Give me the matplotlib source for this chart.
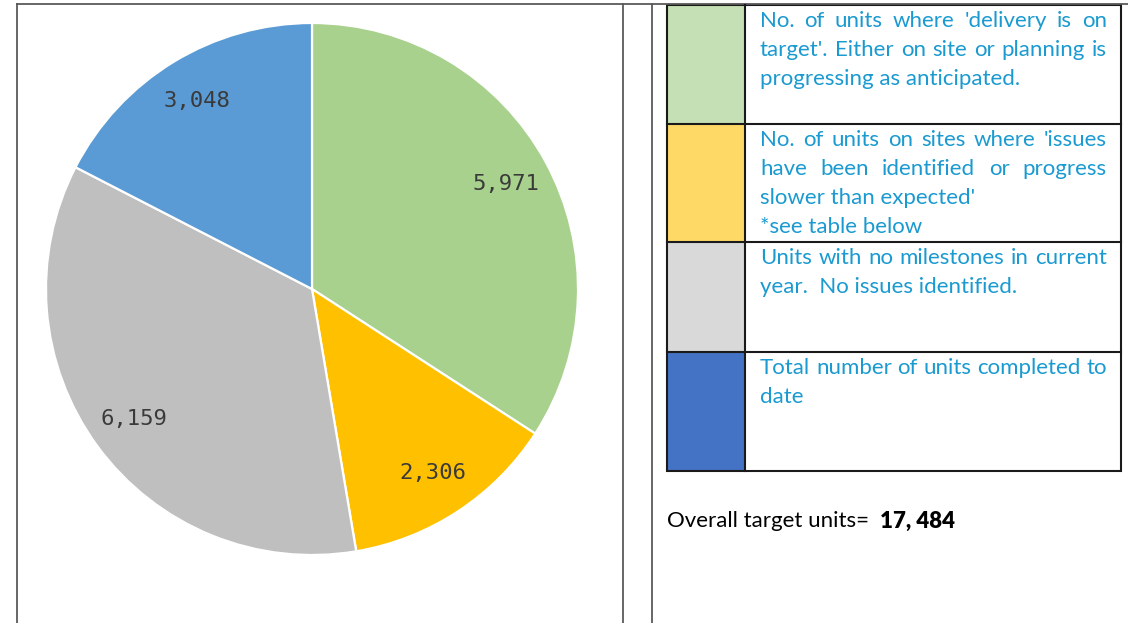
import matplotlib
matplotlib.use('Agg')
import matplotlib.pyplot as plt
from matplotlib.patches import Rectangle

# pie data (units)
values = [5971, 2306, 6159, 3048]
pie_colors = ['#A9D18E', '#FFC000', '#BFBFBF', '#5B9BD5']

# key table on the right
key_colors = ['#C5E0B4', '#FFD966', '#D9D9D9', '#4472C4']
key_lines = [
    ["No. of units where 'delivery is on", "target'. Either on site or planning is", "progressing as anticipated."],
    ["No. of units on sites where 'issues", "have been identified or progress", "slower than expected'", "*see table below"],
    ["Units with no milestones in current", "year.  No issues identified."],
    ["Total number of units completed to", "date"],
]
# which lines are stretched to the full cell width
key_justify = [[True, True, False], [True, True, False, False], [True, False], [True, False]]
total_label = "Overall target units=  "
total_value = "17, 484"

fig = plt.figure(figsize=(11.28, 6.23), dpi=100)
fig.patch.set_facecolor('white')

# overlay axes in pixel units, y going down
ax = fig.add_axes([0, 0, 1, 1])
ax.set_xlim(0, 1128)
ax.set_ylim(623, 0)
ax.axis('off')
renderer = fig.canvas.get_renderer()

def text_width(s, **kw):
    t = ax.text(0, 0, s, **kw)
    w = t.get_window_extent(renderer).width
    t.remove()
    return w

# outer document table lines
line_col = '#5a5a5a'
ax.plot([17, 1128], [4, 4], color=line_col, lw=1.3)
for xv in [17, 623, 652]:
    ax.plot([xv, xv], [4, 623], color=line_col, lw=1.3)

# key table
rows = [5, 124, 242, 352, 471]
x_left, x_mid, x_right = 667, 745, 1121
for i, c in enumerate(key_colors):
    ax.add_patch(Rectangle((x_left, rows[i]), x_mid - x_left, rows[i + 1] - rows[i],
                           facecolor=c, edgecolor='none'))
ax.add_patch(Rectangle((x_left, rows[0]), x_right - x_left, rows[-1] - rows[0],
                       facecolor='none', edgecolor='#1a1a1a', lw=1.5))
for yv in rows[1:-1]:
    ax.plot([x_left, x_right], [yv, yv], color='#1a1a1a', lw=1.5)
ax.plot([x_mid, x_mid], [rows[0], rows[-1]], color='#1a1a1a', lw=1.5)

# key text, sized so the widest line fills the cell
fam = 'Lato'
tx0, tx1 = 760, 1107
fs = 10 * (tx1 - tx0) / text_width("Total number of units completed to", family=fam, fontsize=10)
txt_col = '#1A9AD0'
sp = 29
for i, lines in enumerate(key_lines):
    y = rows[i] + 16
    for line, just in zip(lines, key_justify[i]):
        if just:
            words = line.split()
            ws = [text_width(w, family=fam, fontsize=fs) for w in words]
            gap = (tx1 - tx0 - sum(ws)) / (len(words) - 1)
            x = tx0
            for w, wd in zip(words, ws):
                ax.text(x, y, w, family=fam, fontsize=fs, color=txt_col, ha='left', va='center')
                x += wd + gap
        else:
            ax.text(tx0, y, line, family=fam, fontsize=fs, color=txt_col, ha='left', va='center')
        y += sp

# overall target
w0 = text_width(total_label, family=fam, fontsize=fs)
ax.text(667, 521, total_label, family=fam, fontsize=fs, color='black', ha='left', va='center')
ax.text(667 + w0, 521, total_value, family=fam, fontsize=fs, color='black',
        fontweight='heavy', ha='left', va='center')

# pie chart
cx, cy, r = 312, 289, 266
pax = fig.add_axes([(cx - r) / 1128, (623 - cy - r) / 623, 2 * r / 1128, 2 * r / 623])
total = sum(values)
pax.pie(values, colors=pie_colors, startangle=90, counterclock=False,
        autopct=lambda p: f'{round(p * total / 100):,}', pctdistance=0.83,
        wedgeprops=dict(edgecolor='white', linewidth=1.6),
        textprops=dict(family='DejaVu Sans Mono', fontsize=16, color='#3a3a3a'))
pax.set_xlim(-1.0, 1.0)
pax.set_ylim(-1.0, 1.0)
pax.axis('off')

fig.savefig('out.png', dpi=100)
